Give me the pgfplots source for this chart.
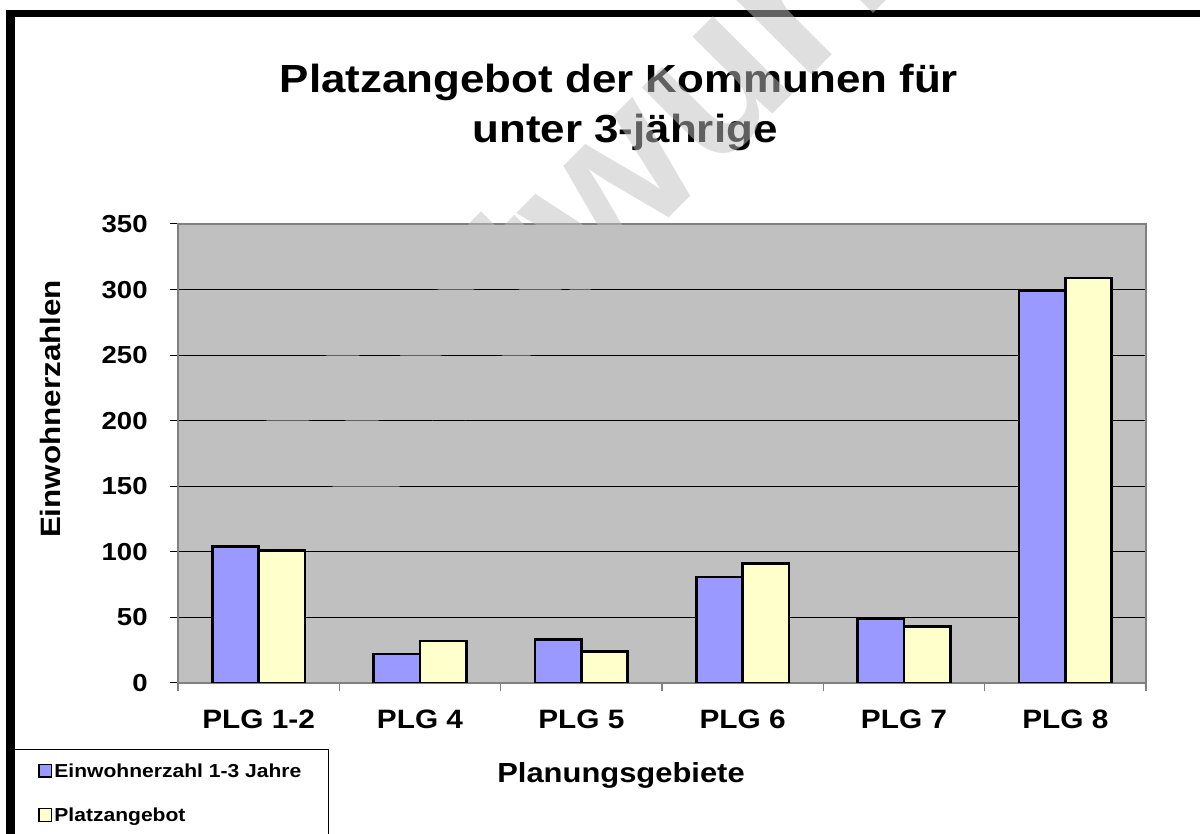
\documentclass[border=0pt]{standalone}
\usepackage{fontspec}
\setmainfont{Liberation Sans}[FakeStretch=1.12]
\newfontfamily\wmfont{Liberation Sans}
\usepackage{pgfplots}
\pgfplotsset{compat=1.18}

\definecolor{barblue}{HTML}{9999FF}
\definecolor{baryellow}{HTML}{FFFFCC}
\definecolor{plotgray}{HTML}{C0C0C0}
\definecolor{framegray}{HTML}{808080}

\newcommand{\fs}[1]{\fontsize{#1}{#1}\selectfont\bfseries}

% Einwohnerzahl 1-3 Jahre / Platzangebot je Planungsgebiet
\pgfplotstableread{
x ew pa
0 104 101
1 22  32
2 33  24
3 81  91
4 49  43
5 299 309
}\plgdata

\begin{document}
\begin{tikzpicture}[x=1pt,y=1pt]
\useasboundingbox (0,0) rectangle (600,417);

% outer frame (top and left)
\fill[black] (3,0) rectangle (7.5,412);
\fill[black] (3,408.5) rectangle (600,412);

\begin{axis}[
  at={(89pt,75.5pt)}, anchor=south west,
  scale only axis, width=484pt, height=229.5pt,
  ybar=0pt, bar width=23.15pt,
  xmin=-0.5, xmax=5.5, ymin=0, ymax=350,
  xtick={0,...,5},
  xticklabels={PLG 1-2, PLG 4, PLG 5, PLG 6, PLG 7, PLG 8},
  minor xtick={-0.5,0.5,...,5.5},
  ytick={0,50,...,350},
  xtick pos=lower, ytick pos=left,
  ymajorgrids,
  major grid style={black, line width=0.5pt},
  axis background/.style={fill=plotgray},
  axis line style={framegray, line width=1pt},
  tick align=outside,
  major tick length=4pt, minor tick length=4pt,
  major x tick style={draw=none},
  minor x tick style={framegray, line width=0.6pt},
  major y tick style={black, line width=0.5pt},
  /pgf/number format/assume math mode=true,
  xticklabel style={font=\fs{13.3}, anchor=base, inner sep=0pt},
  xticklabel shift=19pt,
  yticklabel style={font=\fs{12.3}, anchor=east, inner sep=0pt},
  yticklabel shift=11pt,
  legend style={at={(axis description cs:-0.1446,-0.17)}, anchor=north west,
    draw=none, fill=none, inner sep=0pt, row sep=12pt, font=\fs{9.4},
    nodes={inner sep=1pt}},
  legend cell align=left,
]
\addplot[fill=barblue, draw=black, line width=1.25pt,
  legend image code/.code={\draw[fill=barblue, draw=black, line width=0.6pt] (0pt,-2.6pt) rectangle (6.4pt,3.8pt);}]
  table[x=x, y=ew] {\plgdata};
\addlegendentry{Einwohnerzahl 1-3 Jahre}
\addplot[fill=baryellow, draw=black, line width=1.25pt,
  legend image code/.code={\draw[fill=baryellow, draw=black, line width=0.6pt] (0pt,-2.6pt) rectangle (6.4pt,3.8pt);}]
  table[x=x, y=pa] {\plgdata};
\addlegendentry{Platzangebot}
\end{axis}

% legend frame
\draw[black, line width=0.5pt] (7.5,42) -- (164,42) -- (164,-2);

% titles and axis labels
\node[anchor=base, font=\fs{19.6}] at (309.5,370.5) {Platzangebot der Kommunen für};
\node[anchor=base, font=\fs{19.6}] at (312.5,345.5) {unter 3-jährige};
\node[rotate=90, font=\fs{14}] at (25,212.5) {Einwohnerzahlen};
\node[anchor=base, font=\fs{13.8}] at (310.5,25.5) {Planungsgebiete};

% watermark
\node[anchor=base west, inner sep=0pt, rotate=45, text=plotgray, text opacity=0.5,
  font=\wmfont\fontsize{105}{105}\selectfont\bfseries] at (178,151.5) {Entwurf};
\end{tikzpicture}
\end{document}
